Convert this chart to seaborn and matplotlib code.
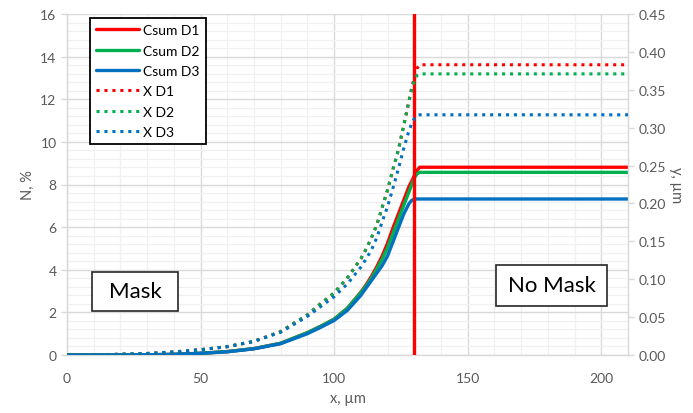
import numpy as np
import pandas as pd
import matplotlib
matplotlib.use("Agg")
import matplotlib.pyplot as plt
from matplotlib.patches import Rectangle
from matplotlib.ticker import MultipleLocator
import seaborn as sns

# ---- data ----
x_pos = [0, 10, 20, 30, 40, 50, 60, 70, 80, 90, 95, 100, 105, 110, 112, 114, 116,
         118, 120, 122, 124, 126, 128, 129, 130, 131, 132,
         140, 150, 160, 170, 180, 190, 200, 210]

csum_d1 = [0, 0, 0, 0.01, 0.03, 0.08, 0.16, 0.30, 0.55, 1.05, 1.35, 1.68, 2.20, 2.95,
           3.30, 3.70, 4.15, 4.65, 5.25, 5.95, 6.60, 7.25, 7.90, 8.15, 8.41, 8.65, 8.81,
           8.81, 8.81, 8.81, 8.81, 8.81, 8.81, 8.81, 8.81]
csum_d2 = [0, 0, 0, 0.01, 0.03, 0.08, 0.16, 0.30, 0.55, 1.05, 1.35, 1.68, 2.20, 2.93,
           3.25, 3.62, 4.05, 4.50, 5.05, 5.70, 6.35, 7.00, 7.65, 7.98, 8.30, 8.50, 8.57,
           8.57, 8.57, 8.57, 8.57, 8.57, 8.57, 8.57, 8.57]
csum_d3 = [0, 0, 0, 0.01, 0.03, 0.08, 0.15, 0.29, 0.53, 1.00, 1.30, 1.62, 2.10, 2.80,
           3.15, 3.50, 3.85, 4.20, 4.65, 5.30, 5.95, 6.60, 7.10, 7.25, 7.32, 7.32, 7.32,
           7.32, 7.32, 7.32, 7.32, 7.32, 7.32, 7.32, 7.32]

x_d1 = [0, 0, 0.001, 0.002, 0.004, 0.007, 0.011, 0.018, 0.031, 0.053, 0.068, 0.082,
        0.102, 0.127, 0.140, 0.155, 0.172, 0.195, 0.218, 0.245, 0.270, 0.302, 0.335,
        0.352, 0.366, 0.378, 0.383,
        0.383, 0.383, 0.383, 0.383, 0.383, 0.383, 0.383, 0.383]
x_d2 = [0, 0, 0.001, 0.002, 0.004, 0.007, 0.011, 0.018, 0.031, 0.053, 0.068, 0.082,
        0.102, 0.127, 0.140, 0.155, 0.172, 0.195, 0.218, 0.245, 0.270, 0.302, 0.335,
        0.350, 0.362, 0.369, 0.371,
        0.371, 0.371, 0.371, 0.371, 0.371, 0.371, 0.371, 0.371]
x_d3 = [0, 0, 0.001, 0.002, 0.004, 0.007, 0.011, 0.018, 0.030, 0.051, 0.064, 0.077,
        0.094, 0.116, 0.127, 0.139, 0.155, 0.176, 0.196, 0.220, 0.245, 0.272, 0.296,
        0.305, 0.312, 0.316, 0.317,
        0.317, 0.317, 0.317, 0.317, 0.317, 0.317, 0.317, 0.317]

mask_edge = 130
left_ticks = list(range(0, 17, 2))
right_ticks = [0.00, 0.05, 0.10, 0.15, 0.20, 0.25, 0.30, 0.35, 0.40, 0.45]
x_ticks = [0, 50, 100, 150, 200]

# ---- styling ----
sns.set_theme(style="white")
plt.rcParams['font.family'] = ['Lato', 'DejaVu Sans']

RED, GREEN, BLUE = "#FF0000", "#00B050", "#0070C0"
TICKC = "#595959"
GRIDMAJ = "#D9D9D9"
GRIDMIN = "#F0F0F0"

fig = plt.figure(figsize=(6.93, 4.14), dpi=100)
ax = fig.add_axes([67/693, 1-356/414, (628-67)/693, (356-15)/414])
ax2 = ax.twinx()

df_c = pd.DataFrame({"x": x_pos, "Csum D1": csum_d1, "Csum D2": csum_d2, "Csum D3": csum_d3})
df_x = pd.DataFrame({"x": x_pos, "X D1": x_d1, "X D2": x_d2, "X D3": x_d3})

for name, col in [("Csum D1", RED), ("Csum D2", GREEN), ("Csum D3", BLUE)]:
    sns.lineplot(data=df_c, x="x", y=name, ax=ax, color=col, lw=2.4, label=name,
                 legend=False, zorder=3)
for name, col in [("X D1", RED), ("X D2", GREEN), ("X D3", BLUE)]:
    sns.lineplot(data=df_x, x="x", y=name, ax=ax2, color=col, lw=2.2,
                 linestyle=(0, (1, 1.6)), label=name, legend=False, zorder=3)

ax.axvline(mask_edge, color=RED, lw=2.4, zorder=4)

ax.set_xlim(0, 210)
ax.set_ylim(0, 16)
ax2.set_ylim(0, 0.45)
ax.set_xticks(x_ticks)
ax.set_yticks(left_ticks)
ax2.set_yticks(right_ticks)
ax2.set_yticklabels([f"{v:.2f}" for v in right_ticks])
ax.xaxis.set_minor_locator(MultipleLocator(10))
ax.yaxis.set_minor_locator(MultipleLocator(0.4))

ax.grid(True, which="major", color=GRIDMAJ, lw=1.0, zorder=0)
ax.grid(True, which="minor", color=GRIDMIN, lw=0.9, zorder=0)
ax.set_axisbelow(True)

for a in (ax, ax2):
    for s in a.spines.values():
        s.set_visible(False)
ax.spines["left"].set_visible(True)
ax.spines["bottom"].set_visible(True)
ax2.spines["right"].set_visible(True)
for s in (ax.spines["left"], ax.spines["bottom"], ax2.spines["right"]):
    s.set_color(GRIDMAJ)
    s.set_linewidth(1.0)

ax.tick_params(axis="both", which="major", colors=GRIDMAJ, labelcolor=TICKC,
               labelsize=10, length=4, width=1, direction="out",
               left=True, bottom=False)
ax.tick_params(axis="both", which="minor", length=0)
ax2.tick_params(axis="y", colors=GRIDMAJ, labelcolor=TICKC, labelsize=10,
                length=4, width=1, direction="out", right=True)
ax.tick_params(axis="x", pad=8)

ax.set_xlabel("x, µm", color=TICKC, fontsize=10.5, labelpad=5)
ax.set_ylabel("N, %", color=TICKC, fontsize=10.5, labelpad=4)
ax2.set_ylabel("y, µm", color=TICKC, fontsize=10.5, rotation=-90, labelpad=12)

# legend
h1, l1 = ax.get_legend_handles_labels()
h2, l2 = ax2.get_legend_handles_labels()
leg = ax2.legend(h1 + h2, l1 + l2, loc="upper left",
                 bbox_to_anchor=((90-67)/561, 1-(19-15)/341),
                 frameon=True, fancybox=False, fontsize=10, handlelength=3.1,
                 handletextpad=0.3, labelspacing=0.6, borderpad=0.45,
                 borderaxespad=0)
leg.get_frame().set_edgecolor("black")
leg.get_frame().set_linewidth(1.3)
leg.get_frame().set_facecolor("white")
leg.get_frame().set_alpha(1)
for t in leg.get_texts():
    t.set_color("black")

# annotation boxes (figure pixel layout)
W, H = 693, 414
def label_box(x0, y0, x1, y1, text):
    fig.patches.append(Rectangle((x0/W, 1-y1/H), (x1-x0)/W, (y1-y0)/H,
                                 transform=fig.transFigure, facecolor="white",
                                 edgecolor="#262626", lw=1.2, zorder=5))
    fig.text((x0+x1)/2/W, 1-(y0+y1)/2/H, text, ha="center", va="center",
             fontsize=16, color="black", zorder=6)

label_box(92, 273, 178, 312, "Mask")
label_box(496, 266, 607, 307, "No Mask")

fig.savefig("out.png", dpi=100)
